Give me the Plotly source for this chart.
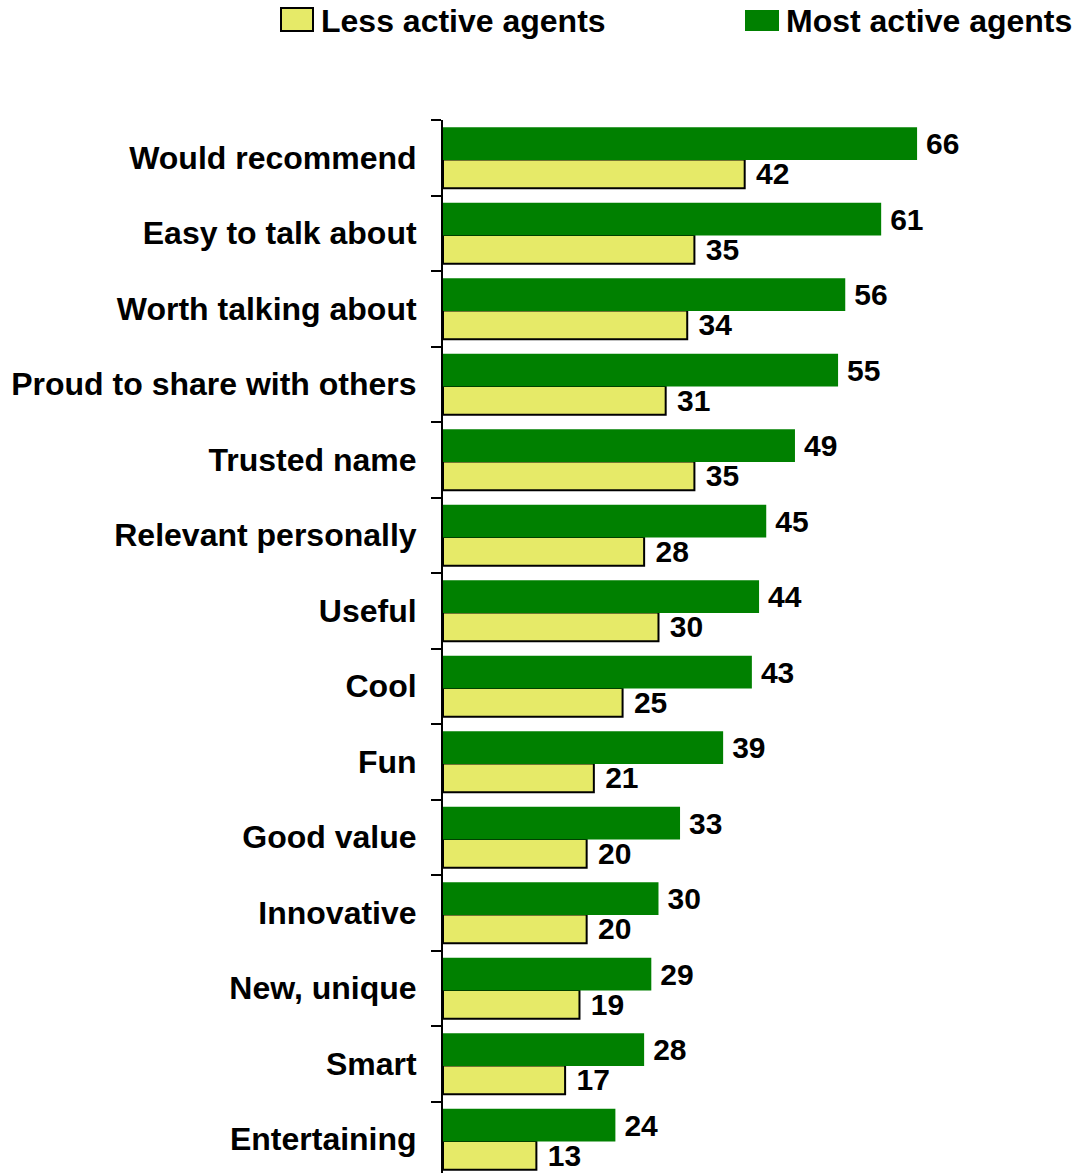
import plotly.graph_objects as go

categories = ["Would recommend", "Easy to talk about", "Worth talking about",
              "Proud to share with others", "Trusted name", "Relevant personally",
              "Useful", "Cool", "Fun", "Good value", "Innovative", "New, unique",
              "Smart", "Entertaining"]
most_active = [66, 61, 56, 55, 49, 45, 44, 43, 39, 33, 30, 29, 28, 24]
less_active = [42, 35, 34, 31, 35, 28, 30, 25, 21, 20, 20, 19, 17, 13]
series_names = ["Less active agents", "Most active agents"]

W, H = 1075, 1173
ML, MR, MT, MB = 443, 20, 120, 0
PW, PH = W - ML - MR, H - MT - MB

FONT = "Liberation Sans, Arial, Helvetica, sans-serif"
GREEN = "#008000"
YELLOW = "#E6EA68"


def px2x(px):
    return (px - ML) / PW


def py2y(py):
    return (H - MB - py) / PH


fig = go.Figure()
fig.add_trace(go.Bar(
    y=categories, x=less_active, orientation="h", name=series_names[0],
    marker=dict(color=YELLOW, line=dict(color="black", width=2)),
    offset=-0.404, width=0.38,
    text=less_active, texttemplate=" %{x}", textposition="outside",
    textfont=dict(family=FONT, size=30, color="black", weight="bold"),
    constraintext="none", cliponaxis=False, showlegend=False,
))
fig.add_trace(go.Bar(
    y=categories, x=most_active, orientation="h", name=series_names[1],
    marker=dict(color=GREEN, line=dict(width=0)),
    offset=-0.03, width=0.434,
    text=most_active, texttemplate="\u2009%{x}", textposition="outside",
    textfont=dict(family=FONT, size=30, color="black", weight="bold"),
    constraintext="none", cliponaxis=False, showlegend=False,
))

n = len(categories)
fig.update_layout(
    width=W, height=H,
    margin=dict(l=ML, r=MR, t=MT, b=MB, pad=0),
    barmode="overlay",
    plot_bgcolor="white", paper_bgcolor="white",
    font=dict(family=FONT, color="black"),
    xaxis=dict(range=[0, 85.2], visible=False, showgrid=False, zeroline=False),
    yaxis=dict(
        type="category", categoryorder="array", categoryarray=categories[::-1],
        range=[-0.447, n - 0.5], showgrid=False, zeroline=False,
        showline=True, linecolor="black", linewidth=2,
        ticks="outside", tickson="boundaries", ticklen=10, tickwidth=2, tickcolor="black",
        tickfont=dict(family=FONT, size=32, color="black", weight="bold"),
        ticklabelstandoff=18,
    ),
    showlegend=False,
)

# Legend drawn as swatches + text
legend_items = [
    (series_names[0], YELLOW, "black", 281, 313, 8, 31, 319),
    (series_names[1], GREEN, GREEN, 745, 779, 10, 31, 784),
]
for name, fill, line, x0, x1, y0, y1, tx in legend_items:
    fig.add_shape(type="rect", xref="paper", yref="paper",
                  x0=px2x(x0), x1=px2x(x1), y0=py2y(y1), y1=py2y(y0),
                  fillcolor=fill, line=dict(color=line, width=2 if line == "black" else 0))
    fig.add_annotation(xref="paper", yref="paper", x=px2x(tx), y=py2y(21),
                       xanchor="left", yanchor="middle", showarrow=False,
                       text=name, font=dict(family=FONT, size=32, color="black", weight="bold"))

fig.write_html("out.html")
